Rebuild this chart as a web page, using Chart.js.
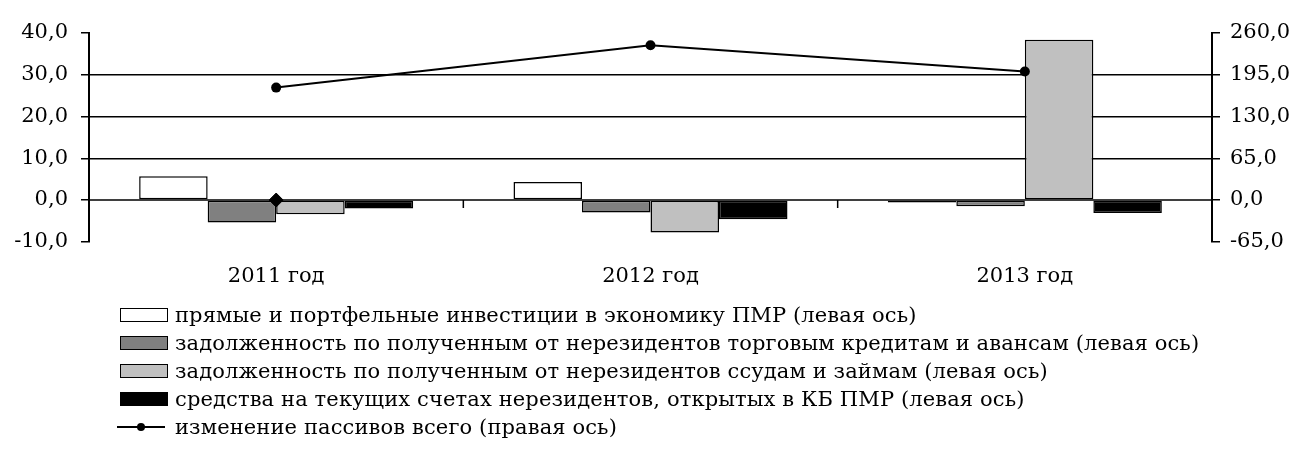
<!DOCTYPE html>
<html>
<head>
<meta charset="utf-8">
<script src="https://cdn.jsdelivr.net/npm/chart.js@4/dist/chart.umd.min.js"></script>
<style>
    body { margin: 0; background: #fff; }
    #wrap { position: relative; width: 1295px; height: 450px; }
    #chart-box { position: absolute; left: 0; top: 0; width: 1295px; height: 324px; }
    #legend { position: absolute; left: 117px; top: 301px; font-family: 'DejaVu Serif', serif; font-size: 21px; letter-spacing: 0.12px; color: #000; }
    .lg-row { height: 28px; display: flex; align-items: center; white-space: nowrap; }
    .lg-box { width: 48px; height: 14px; border: 1.5px solid #000; box-sizing: border-box; margin-left: 3px; margin-right: 7px; }
    .lg-line { position: relative; width: 48px; height: 14px; margin-right: 10px; }
    .lg-line:before { content: ''; position: absolute; left: 0; right: 0; top: 6px; height: 2px; background: #000; }
    .lg-line:after { content: ''; position: absolute; left: 20px; top: 3px; width: 8px; height: 8px; border-radius: 50%; background: #000; }
</style>
</head>
<body>
<div id="wrap">
    <div id="chart-box"><canvas id="chart"></canvas></div>
    <div id="legend"></div>
</div>
<script>
// categories
var years = ['2011 год', '2012 год', '2013 год'];

// left axis series (bars)
var investments = [5.7, 4.3, -0.6];
var tradeCredits = [-5.4, -3.0, -1.5];
var loans = [-3.4, -7.8, 38.4];
var currentAccounts = [-2.0, -4.6, -3.1];

// right axis series (line)
var totalLiabilities = [175, 241, 200];

// lone marker on zero, no legend entry
var zeroMarker = [0, null, null];

var leftTicks = [-10, 0, 10, 20, 30, 40];
var rightTicks = [-65, 0, 65, 130, 195, 260];

var seriesNames = [
    'прямые и портфельные инвестиции в экономику ПМР (левая ось)',
    'задолженность по полученным от нерезидентов торговым кредитам и авансам (левая ось)',
    'задолженность по полученным от нерезидентов ссудам и займам (левая ось)',
    'средства на текущих счетах нерезидентов, открытых в КБ ПМР (левая ось)',
    'изменение пассивов всего (правая ось)'
];
var barColors = ['#ffffff', '#808080', '#c0c0c0', '#000000'];

var FONT = { family: "'DejaVu Serif', serif", size: 21 };

function fmt(v) {
    return Number(v).toFixed(1).replace('.', ',');
}

function barSet(i, data) {
    return {
        type: 'bar',
        label: seriesNames[i],
        data: data,
        backgroundColor: barColors[i],
        borderColor: '#000',
        borderWidth: 1.5,
        borderSkipped: false,
        yAxisID: 'y',
        order: 1
    };
}

// zero line across the plot and small ticks between categories
var zeroAxis = {
    id: 'zeroAxis',
    beforeDatasetsDraw: function(chart) {
        var x = chart.scales.x, y = chart.scales.y, ctx = chart.ctx;
        var y0 = y.getPixelForValue(0);
        ctx.save();
        ctx.strokeStyle = '#000';
        ctx.lineWidth = 1.5;
        ctx.beginPath();
        ctx.moveTo(chart.chartArea.left, y0);
        ctx.lineTo(chart.chartArea.right, y0);
        for (var i = 0; i < years.length - 1; i++) {
            var bx = (x.getPixelForValue(i) + x.getPixelForValue(i + 1)) / 2;
            ctx.moveTo(bx, y0);
            ctx.lineTo(bx, y0 + 8);
        }
        ctx.stroke();
        ctx.restore();
    }
};

var chart = new Chart(document.getElementById('chart').getContext('2d'), {
    data: {
        labels: years,
        datasets: [
            barSet(0, investments),
            barSet(1, tradeCredits),
            barSet(2, loans),
            barSet(3, currentAccounts),
            {
                type: 'line',
                label: seriesNames[4],
                data: totalLiabilities,
                borderColor: '#000',
                backgroundColor: '#000',
                borderWidth: 2,
                pointRadius: 5,
                pointBorderWidth: 0,
                fill: false,
                tension: 0,
                yAxisID: 'y1',
                order: -1
            },
            {
                type: 'line',
                label: '',
                data: zeroMarker,
                showLine: false,
                pointStyle: 'rectRot',
                pointRadius: 7,
                backgroundColor: '#000',
                borderColor: '#000',
                yAxisID: 'y',
                order: -1
            }
        ]
    },
    options: {
        responsive: true, maintainAspectRatio: false,
        animation: false,
        layout: { padding: { left: 0, right: 0, top: 33, bottom: 13 } },
        plugins: {
            legend: { display: false },
            tooltip: { enabled: false }
        },
        datasets: { bar: { barPercentage: 1, categoryPercentage: 0.732 } },
        scales: {
            x: {
                grid: { display: false, drawTicks: false },
                border: { display: false },
                ticks: { color: '#000', font: FONT, padding: 22 }
            },
            y: {
                position: 'left',
                min: -10, max: 40,
                afterBuildTicks: function(s) { s.ticks = leftTicks.map(function(v) { return { value: v }; }); },
                afterFit: function(s) { s.width = 89; },
                grid: {
                    color: function(c) { return (c.tick && c.tick.value > 0 && c.tick.value < 40) ? '#000' : 'rgba(0,0,0,0)'; },
                    lineWidth: 1.5,
                    tickColor: '#000',
                    tickLength: 8
                },
                border: { display: true, color: '#000', width: 2 },
                ticks: { color: '#000', font: FONT, padding: 13, callback: fmt }
            },
            y1: {
                position: 'right',
                min: -65, max: 260,
                afterBuildTicks: function(s) { s.ticks = rightTicks.map(function(v) { return { value: v }; }); },
                afterFit: function(s) { s.width = 83; },
                grid: { drawOnChartArea: false, tickColor: '#000', tickLength: 8, lineWidth: 1.5 },
                border: { display: true, color: '#000', width: 2 },
                ticks: { color: '#000', font: FONT, padding: 10, callback: fmt }
            }
        }
    },
    plugins: [zeroAxis]
});

// legend, one entry per line, built from the chart's datasets
function buildLegend(chart) {
    var html = '';
    chart.data.datasets.forEach(function(ds) {
        if (!ds.label) return;
        var swatch = ds.type === 'bar'
            ? '<span class="lg-box" style="background:' + ds.backgroundColor + '"></span>'
            : '<span class="lg-line"></span>';
        html += '<div class="lg-row">' + swatch + '<span>' + ds.label + '</span></div>';
    });
    document.getElementById('legend').innerHTML = html;
}
buildLegend(chart);
</script>
</body>
</html>
